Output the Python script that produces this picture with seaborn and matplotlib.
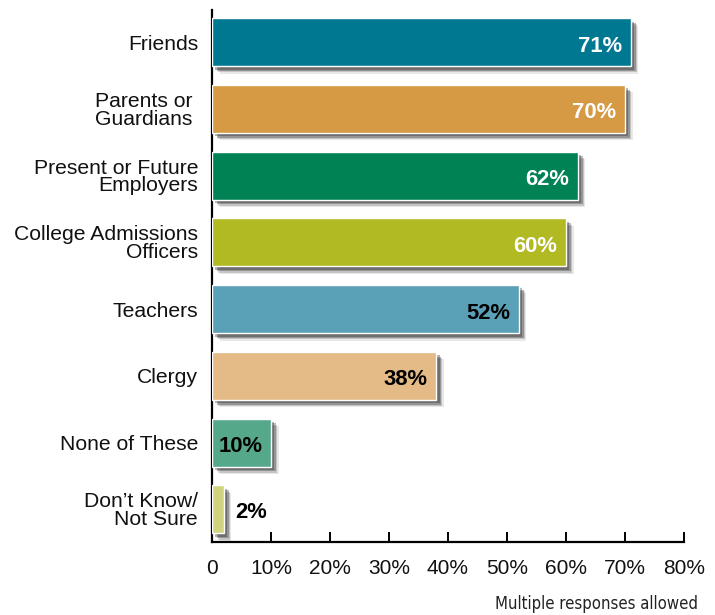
import matplotlib
matplotlib.use("Agg")
import matplotlib.pyplot as plt
import matplotlib.patheffects as pe
import seaborn as sns
import pandas as pd

categories = [
    "Friends",
    "Parents or \nGuardians ",
    "Present or Future\nEmployers",
    "College Admissions\nOfficers",
    "Teachers",
    "Clergy",
    "None of These",
    "Don\u2019t Know/\nNot Sure",
]
values = [71, 70, 62, 60, 52, 38, 10, 2]
colors = ["#017892", "#D69944", "#008255", "#B1B923",
          "#5AA0B6", "#E4BA86", "#55A98A", "#D1D47F"]
label_colors = ["white", "white", "white", "white",
                "black", "black", "black", "black"]
x_ticks = [0, 10, 20, 30, 40, 50, 60, 70, 80]
x_tick_labels = ["0", "10%", "20%", "30%", "40%", "50%", "60%", "70%", "80%"]
footnote = "Multiple responses allowed"

sns.set_style("white")
plt.rcParams["font.family"] = ["Liberation Sans", "DejaVu Sans"]

df = pd.DataFrame({"category": categories, "value": values})

fig = plt.figure(figsize=(7.15, 6.15), dpi=100)
ax = fig.add_axes([0.2965, 0.1187, 0.66, 0.865])

sns.barplot(data=df, x="value", y="category", hue="category",
            palette=colors, saturation=1, orient="h", width=0.72,
            legend=False, dodge=False, ax=ax, zorder=3)

# soft drop shadow behind every bar
shadow = [
    pe.SimplePatchShadow(offset=(2.5, -2.5), shadow_rgbFace="#222222", alpha=0.35),
    pe.SimplePatchShadow(offset=(3.5, -3.5), shadow_rgbFace="#222222", alpha=0.3),
    pe.SimplePatchShadow(offset=(4.5, -4.5), shadow_rgbFace="#333333", alpha=0.2),
    pe.SimplePatchShadow(offset=(5.5, -5.5), shadow_rgbFace="#444444", alpha=0.12),
    pe.Normal(),
]
for patch in ax.patches:
    patch.set_edgecolor("white")
    patch.set_linewidth(1.0)
    patch.set_path_effects(shadow)

# value labels
for i, (v, c) in enumerate(zip(values, label_colors)):
    if v >= 8:
        ax.annotate(f"{v}%", xy=(v, i), xytext=(-6, -3),
                    textcoords="offset points", ha="right", va="center",
                    fontsize=15.8, fontweight="bold", color=c, zorder=5)
    else:
        ax.annotate(f"{v}%", xy=(v, i), xytext=(8.5, -2.5),
                    textcoords="offset points", ha="left", va="center",
                    fontsize=15.8, fontweight="bold", color=c, zorder=5)

ax.set_xlim(0, 80)
ax.set_ylim(7.49, -0.48)
ax.set_xticks(x_ticks)
ax.set_xticklabels(x_tick_labels)
ax.set_xlabel("")
ax.set_ylabel("")

for s in ["top", "right"]:
    ax.spines[s].set_visible(False)
for s in ["left", "bottom"]:
    ax.spines[s].set_color("black")
    ax.spines[s].set_linewidth(1.6)
    ax.spines[s].set_zorder(2)

ax.tick_params(axis="x", bottom=True, direction="in", length=7.5, width=1.4,
               color="black", pad=12, labelsize=15, labelcolor="#111111")
ax.tick_params(axis="y", left=False, length=0, pad=10, labelsize=15.2,
               labelcolor="#111111")
for lbl in ax.get_yticklabels():
    lbl.set_linespacing(0.92)

fig.text(698 / 715, 1 - 604 / 615, footnote, ha="right", va="center",
         fontsize=12, color="#222222", family="DejaVu Sans",
         stretch="condensed")

fig.savefig("out.png", dpi=100, facecolor="white")
